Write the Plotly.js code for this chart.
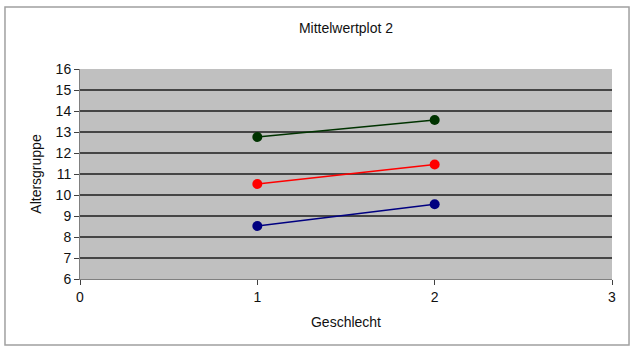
<!DOCTYPE html>
<html><head><meta charset="utf-8">
<script src="https://cdn.plot.ly/plotly-3.0.1.min.js"></script>
<style>html,body{margin:0;padding:0;background:#fff}#chart{width:634px;height:349px}</style>
</head><body><div id="chart"></div>
<script>
const geschlecht = [1, 2];
const seriesNames = ["Gruppe 1", "Gruppe 2", "Gruppe 3"];
const gruenWerte = [12.76, 13.57];
const rotWerte = [10.52, 11.45];
const blauWerte = [8.52, 9.56];
const xTicks = [0, 1, 2, 3];
const yTicks = [6, 7, 8, 9, 10, 11, 12, 13, 14, 15, 16];
const colors = ["#003300", "#ff0000", "#000080"];
const allSeries = [gruenWerte, rotWerte, blauWerte];

const traces = allSeries.map((vals, i) => ({
  x: geschlecht, y: vals, type: "scatter", mode: "lines+markers",
  name: seriesNames[i],
  line: {color: colors[i], width: 1.5},
  marker: {color: colors[i], size: 10}
}));

const font = {family: "Liberation Sans, Arial, sans-serif", size: 14, color: "#111"};
const layout = {
  width: 634, height: 349,
  margin: {l: 80, r: 22, t: 69, b: 70},
  paper_bgcolor: "#fff", plot_bgcolor: "#c0c0c0",
  showlegend: false, font: font,
  title: {text: "Mittelwertplot 2", x: 0.5, xref: "paper", xanchor: "center", y: 1 - 28/349, yref: "container", yanchor: "middle", font: font},
  xaxis: {range: [0, 3], tickvals: xTicks, ticktext: xTicks.map(String), showgrid: false, zeroline: false,
    showline: true, linecolor: "#808080", linewidth: 1, ticks: "outside", ticklen: 5, tickcolor: "#404040",
    title: {text: "Geschlecht", standoff: 13, font: font}, tickfont: font, fixedrange: true},
  yaxis: {range: [6, 16], tickvals: yTicks, showgrid: true, gridcolor: "#454545", gridwidth: 1.5, zeroline: false,
    showline: true, linecolor: "#808080", linewidth: 1, ticks: "outside", ticklen: 5, tickcolor: "#404040",
    title: {text: "Altersgruppe", standoff: 10, font: font}, tickfont: font, fixedrange: true},
  shapes: [{type: "rect", xref: "paper", yref: "paper", x0: -0.141, x1: 1.032, y0: -0.314, y1: 1.295,
    line: {color: "#a0a0a0", width: 1.5}, layer: "below"}]
};
Plotly.newPlot("chart", traces, layout, {staticPlot: true, displayModeBar: false});
</script></body></html>
